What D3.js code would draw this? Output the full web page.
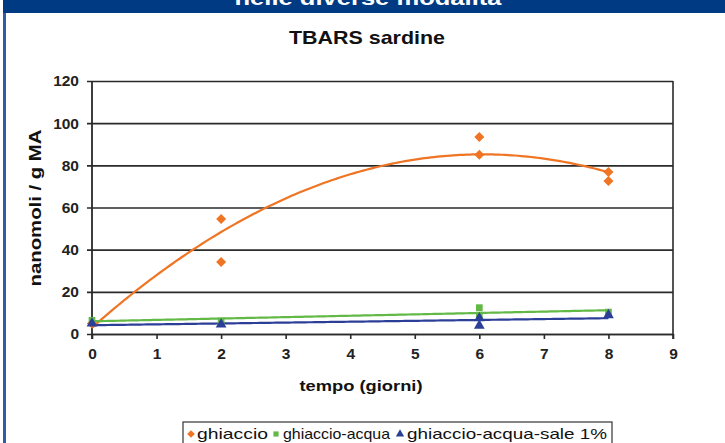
<!DOCTYPE html>
<html><head><meta charset="utf-8">
<script src="https://cdn.jsdelivr.net/npm/d3@7"></script>
<style>body{margin:0;background:#fff}svg{display:block}text{font-family:"Liberation Sans",Arial,sans-serif}</style>
</head><body>
<script>
const bannerText = "nelle diverse modalità";
const chartTitle = "TBARS sardine";
const xTitle = "tempo (giorni)";
const yTitle = "nanomoli / g MA";
const seriesNames = ["ghiaccio", "ghiaccio-acqua", "ghiaccio-acqua-sale 1%"];
const ghiaccioX = [0, 0, 2, 2, 6, 6, 8, 8];
const ghiaccioY = [5, 5, 54.5, 34.2, 93.4, 85, 76.8, 72.6];
const acquaX = [0, 2, 6, 6, 8];
const acquaY = [6.5, 6.2, 12.5, 9, 10.4];
const saleX = [0, 2, 6, 6, 8];
const saleY = [5, 4.5, 7.5, 4, 9];
const xTicks = [0,1,2,3,4,5,6,7,8,9];
const yTicks = [0,20,40,60,80,100,120];
const colors = ["#ef7424", "#62b946", "#2c3f98"];

const W = 725, H = 443;
const svg = d3.select("body").append("svg").attr("width", W).attr("height", H);
svg.append("rect").attr("width", W).attr("height", H).attr("fill", "#fff");

// frame / banner
svg.append("rect").attr("x", 3).attr("y", 0).attr("width", W - 3).attr("height", 13).attr("fill", "#003a82");
svg.append("text").attr("x", 368).attr("y", 5).attr("text-anchor", "middle")
  .attr("font-size", 21).attr("font-weight", "bold").attr("fill", "#fff")
  .attr("textLength", 267).attr("lengthAdjust", "spacingAndGlyphs").text(bannerText);
svg.append("rect").attr("x", 3).attr("y", 13).attr("width", 3).attr("height", H - 13).attr("fill", "#2f5ea6");

const x = d3.scaleLinear().domain([0, 9]).range([92, 673]);
const y = d3.scaleLinear().domain([0, 120]).range([334, 81]);

// title
svg.append("text").attr("x", 367).attr("y", 44).attr("text-anchor", "middle")
  .attr("font-size", 19).attr("font-weight", "bold").attr("fill", "#111")
  .attr("textLength", 156).attr("lengthAdjust", "spacingAndGlyphs").text(chartTitle);

// gridlines via y axis
const yAxis = d3.axisLeft(y).tickValues(yTicks).tickSize(-(673 - 87)).tickPadding(8).tickSizeOuter(0);
const gy = svg.append("g").attr("transform", "translate(87,0)").call(yAxis);
gy.select(".domain").remove();
gy.selectAll(".tick line").attr("stroke", "#2a2a2a").attr("stroke-width", 1.6);
gy.selectAll(".tick text").attr("font-size", 15.5).attr("font-weight", "bold").attr("fill", "#222")
  .attr("font-family", '"Liberation Sans",Arial,sans-serif').attr("x", -8);

// y axis line & right border
svg.append("line").attr("x1", 92).attr("x2", 92).attr("y1", y(120)).attr("y2", 339).attr("stroke", "#2a2a2a").attr("stroke-width", 1.8);
svg.append("line").attr("x1", 673).attr("x2", 673).attr("y1", y(120)).attr("y2", 339).attr("stroke", "#2a2a2a").attr("stroke-width", 1.6);

// x axis
const xAxis = d3.axisBottom(x).tickValues(xTicks).tickSize(5).tickPadding(9).tickSizeOuter(0);
const gx = svg.append("g").attr("transform", "translate(0,334)").call(xAxis);
gx.select(".domain").attr("stroke", "#2a2a2a").attr("stroke-width", 1.6);
gx.selectAll(".tick line").attr("stroke", "#2a2a2a").attr("stroke-width", 1.6);
gx.selectAll(".tick text").attr("font-size", 15.5).attr("font-weight", "bold").attr("fill", "#222")
  .attr("font-family", '"Liberation Sans",Arial,sans-serif');

// axis titles
svg.append("text").attr("transform", "translate(41,208) rotate(-90)").attr("text-anchor", "middle")
  .attr("font-size", 17).attr("font-weight", "bold").attr("fill", "#111")
  .attr("textLength", 157).attr("lengthAdjust", "spacingAndGlyphs").text(yTitle);
svg.append("text").attr("x", 361).attr("y", 391).attr("text-anchor", "middle")
  .attr("font-size", 15).attr("font-weight", "bold").attr("fill", "#111")
  .attr("textLength", 123).attr("lengthAdjust", "spacingAndGlyphs").text(xTitle);

// regressions from data
function polyFit(xs, ys, deg) {
  const n = deg + 1;
  const A = Array.from({length: n}, () => new Array(n + 1).fill(0));
  for (let i = 0; i < xs.length; i++) {
    for (let r = 0; r < n; r++) {
      for (let c = 0; c < n; c++) A[r][c] += Math.pow(xs[i], r + c);
      A[r][n] += ys[i] * Math.pow(xs[i], r);
    }
  }
  for (let i = 0; i < n; i++) {
    let p = i;
    for (let k = i + 1; k < n; k++) if (Math.abs(A[k][i]) > Math.abs(A[p][i])) p = k;
    [A[i], A[p]] = [A[p], A[i]];
    for (let k = 0; k < n; k++) if (k !== i) {
      const f = A[k][i] / A[i][i];
      for (let c = i; c <= n; c++) A[k][c] -= f * A[i][c];
    }
  }
  return A.map((row, i) => row[n] / row[i]);
}
const evalPoly = (co, t) => co.reduce((s, c, i) => s + c * Math.pow(t, i), 0);

// square diamond symbol
const symDiamondSq = { draw(ctx, size) { const r = Math.sqrt(size / 2); ctx.moveTo(0, -r); ctx.lineTo(r, 0); ctx.lineTo(0, r); ctx.lineTo(-r, 0); ctx.closePath(); } };

const series = [
  {xs: ghiaccioX, ys: ghiaccioY, deg: 2, sym: symDiamondSq, size: 50},
  {xs: acquaX, ys: acquaY, deg: 1, sym: d3.symbolSquare, size: 45},
  {xs: saleX, ys: saleY, deg: 1, sym: d3.symbolTriangle, size: 50}
];
const line = d3.line().x(d => x(d[0])).y(d => y(d[1])).curve(d3.curveLinear);
series.forEach((s, i) => {
  const co = polyFit(s.xs, s.ys, s.deg);
  const ts = d3.range(0, 8.0001, 0.05);
  svg.append("path").attr("d", line(ts.map(t => [t, evalPoly(co, t)])))
    .attr("fill", "none").attr("stroke", colors[i]).attr("stroke-width", 2.2);
});
series.forEach((s, i) => {
  svg.append("g").selectAll("path").data(s.xs.map((v, k) => [v, s.ys[k]])).join("path")
    .attr("transform", d => `translate(${x(d[0])},${y(d[1])})`)
    .attr("d", d3.symbol().type(s.sym).size(s.size)).attr("fill", colors[i]);
});

// legend
svg.append("rect").attr("x", 183).attr("y", 422).attr("width", 429).attr("height", 30)
  .attr("fill", "#fff").attr("stroke", "#333").attr("stroke-width", 1.2);
const legItems = [
  {sx: 191, tx: 197, tl: 71},
  {sx: 276, tx: 283, tl: 107},
  {sx: 400, tx: 407, tl: 200}
];
legItems.forEach((it, i) => {
  svg.append("path").attr("transform", `translate(${it.sx},434)`)
    .attr("d", d3.symbol().type(series[i].sym).size(series[i].size * 0.6)).attr("fill", colors[i]);
  svg.append("text").attr("x", it.tx).attr("y", 439).attr("font-size", 15).attr("fill", "#111")
    .attr("textLength", it.tl).attr("lengthAdjust", "spacingAndGlyphs").text(seriesNames[i]);
});
</script>
</body></html>
